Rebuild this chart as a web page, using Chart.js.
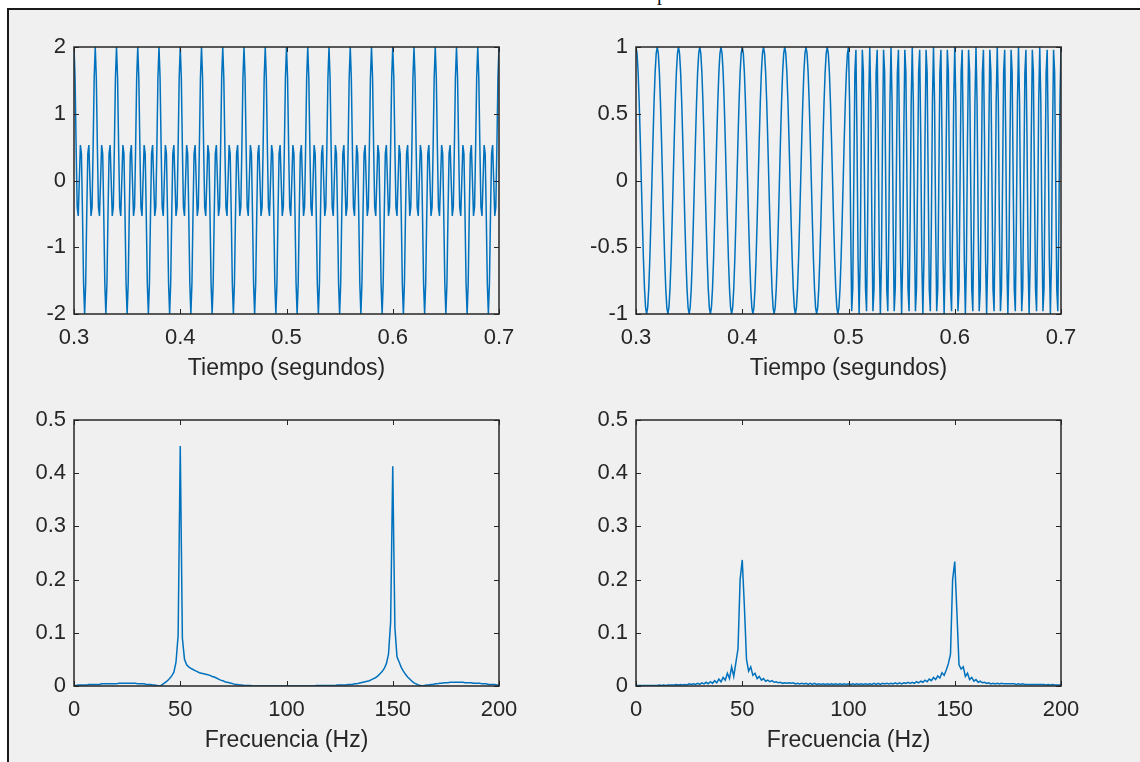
<!DOCTYPE html>
<html>
<head>
<meta charset="utf-8">
<script src="https://cdn.jsdelivr.net/npm/chart.js@4"></script>
<style>
  html, body { margin: 0; padding: 0; background: #ffffff; }
  body { width: 1140px; height: 762px; position: relative; overflow: hidden; }
  #frame { position: absolute; left: 7px; top: 8px; right: 0; bottom: 0; background: #f0f0f0;
           border-left: 2px solid #1a1a1a; border-top: 2px solid #1a1a1a; }
  #cut { position: absolute; left: 657px; top: -17px; font: 20px/20px "Liberation Serif", serif; color: #111; }
  canvas { position: absolute; }
</style>
</head>
<body>
<div id="frame"></div>
<div id="cut">p</div>
<canvas id="c1" width="519" height="351" style="left:0px;top:35px"></canvas>
<canvas id="c2" width="519" height="351" style="left:562px;top:35px"></canvas>
<canvas id="c3" width="519" height="350" style="left:0px;top:408px"></canvas>
<canvas id="c4" width="519" height="350" style="left:562px;top:408px"></canvas>
<script>
// time grid of the two signals (1 kHz samples from 0.3 s)
const tStart = 0.3;
const tStep = 0.001;

// top left: sum of the 50 Hz and 150 Hz tones
const signalSum = [
  2, 1.54, 0.5, -0.4, -0.53, 0, 0.53, 0.4, -0.5, -1.54, -2, -1.54, -0.5, 0.4, 0.53, 0, -0.53, -0.4, 0.5, 1.54,
  2, 1.54, 0.5, -0.4, -0.53, 0, 0.53, 0.4, -0.5, -1.54, -2, -1.54, -0.5, 0.4, 0.53, 0, -0.53, -0.4, 0.5, 1.54,
  2, 1.54, 0.5, -0.4, -0.53, 0, 0.53, 0.4, -0.5, -1.54, -2, -1.54, -0.5, 0.4, 0.53, 0, -0.53, -0.4, 0.5, 1.54,
  2, 1.54, 0.5, -0.4, -0.53, 0, 0.53, 0.4, -0.5, -1.54, -2, -1.54, -0.5, 0.4, 0.53, 0, -0.53, -0.4, 0.5, 1.54,
  2, 1.54, 0.5, -0.4, -0.53, 0, 0.53, 0.4, -0.5, -1.54, -2, -1.54, -0.5, 0.4, 0.53, 0, -0.53, -0.4, 0.5, 1.54,
  2, 1.54, 0.5, -0.4, -0.53, 0, 0.53, 0.4, -0.5, -1.54, -2, -1.54, -0.5, 0.4, 0.53, 0, -0.53, -0.4, 0.5, 1.54,
  2, 1.54, 0.5, -0.4, -0.53, 0, 0.53, 0.4, -0.5, -1.54, -2, -1.54, -0.5, 0.4, 0.53, 0, -0.53, -0.4, 0.5, 1.54,
  2, 1.54, 0.5, -0.4, -0.53, 0, 0.53, 0.4, -0.5, -1.54, -2, -1.54, -0.5, 0.4, 0.53, 0, -0.53, -0.4, 0.5, 1.54,
  2, 1.54, 0.5, -0.4, -0.53, 0, 0.53, 0.4, -0.5, -1.54, -2, -1.54, -0.5, 0.4, 0.53, 0, -0.53, -0.4, 0.5, 1.54,
  2, 1.54, 0.5, -0.4, -0.53, 0, 0.53, 0.4, -0.5, -1.54, -2, -1.54, -0.5, 0.4, 0.53, 0, -0.53, -0.4, 0.5, 1.54,
  2, 1.54, 0.5, -0.4, -0.53, 0, 0.53, 0.4, -0.5, -1.54, -2, -1.54, -0.5, 0.4, 0.53, 0, -0.53, -0.4, 0.5, 1.54,
  2, 1.54, 0.5, -0.4, -0.53, 0, 0.53, 0.4, -0.5, -1.54, -2, -1.54, -0.5, 0.4, 0.53, 0, -0.53, -0.4, 0.5, 1.54,
  2, 1.54, 0.5, -0.4, -0.53, 0, 0.53, 0.4, -0.5, -1.54, -2, -1.54, -0.5, 0.4, 0.53, 0, -0.53, -0.4, 0.5, 1.54,
  2, 1.54, 0.5, -0.4, -0.53, 0, 0.53, 0.4, -0.5, -1.54, -2, -1.54, -0.5, 0.4, 0.53, 0, -0.53, -0.4, 0.5, 1.54,
  2, 1.54, 0.5, -0.4, -0.53, 0, 0.53, 0.4, -0.5, -1.54, -2, -1.54, -0.5, 0.4, 0.53, 0, -0.53, -0.4, 0.5, 1.54,
  2, 1.54, 0.5, -0.4, -0.53, 0, 0.53, 0.4, -0.5, -1.54, -2, -1.54, -0.5, 0.4, 0.53, 0, -0.53, -0.4, 0.5, 1.54,
  2, 1.54, 0.5, -0.4, -0.53, 0, 0.53, 0.4, -0.5, -1.54, -2, -1.54, -0.5, 0.4, 0.53, 0, -0.53, -0.4, 0.5, 1.54,
  2, 1.54, 0.5, -0.4, -0.53, 0, 0.53, 0.4, -0.5, -1.54, -2, -1.54, -0.5, 0.4, 0.53, 0, -0.53, -0.4, 0.5, 1.54,
  2, 1.54, 0.5, -0.4, -0.53, 0, 0.53, 0.4, -0.5, -1.54, -2, -1.54, -0.5, 0.4, 0.53, 0, -0.53, -0.4, 0.5, 1.54,
  2, 1.54, 0.5, -0.4, -0.53, 0, 0.53, 0.4, -0.5, -1.54, -2, -1.54, -0.5, 0.4, 0.53, 0, -0.53, -0.4, 0.5, 1.54,
  2
];

// top right: 50 Hz tone until 0.5 s, then 150 Hz tone
const signalSwitch = [
  1, 0.95, 0.81, 0.59, 0.31, 0, -0.31, -0.59, -0.81, -0.95, -1, -0.95, -0.81, -0.59, -0.31, 0, 0.31, 0.59, 0.81, 0.95,
  1, 0.95, 0.81, 0.59, 0.31, 0, -0.31, -0.59, -0.81, -0.95, -1, -0.95, -0.81, -0.59, -0.31, 0, 0.31, 0.59, 0.81, 0.95,
  1, 0.95, 0.81, 0.59, 0.31, 0, -0.31, -0.59, -0.81, -0.95, -1, -0.95, -0.81, -0.59, -0.31, 0, 0.31, 0.59, 0.81, 0.95,
  1, 0.95, 0.81, 0.59, 0.31, 0, -0.31, -0.59, -0.81, -0.95, -1, -0.95, -0.81, -0.59, -0.31, 0, 0.31, 0.59, 0.81, 0.95,
  1, 0.95, 0.81, 0.59, 0.31, 0, -0.31, -0.59, -0.81, -0.95, -1, -0.95, -0.81, -0.59, -0.31, 0, 0.31, 0.59, 0.81, 0.95,
  1, 0.95, 0.81, 0.59, 0.31, 0, -0.31, -0.59, -0.81, -0.95, -1, -0.95, -0.81, -0.59, -0.31, 0, 0.31, 0.59, 0.81, 0.95,
  1, 0.95, 0.81, 0.59, 0.31, 0, -0.31, -0.59, -0.81, -0.95, -1, -0.95, -0.81, -0.59, -0.31, 0, 0.31, 0.59, 0.81, 0.95,
  1, 0.95, 0.81, 0.59, 0.31, 0, -0.31, -0.59, -0.81, -0.95, -1, -0.95, -0.81, -0.59, -0.31, 0, 0.31, 0.59, 0.81, 0.95,
  1, 0.95, 0.81, 0.59, 0.31, 0, -0.31, -0.59, -0.81, -0.95, -1, -0.95, -0.81, -0.59, -0.31, 0, 0.31, 0.59, 0.81, 0.95,
  1, 0.95, 0.81, 0.59, 0.31, 0, -0.31, -0.59, -0.81, -0.95, -1, -0.95, -0.81, -0.59, -0.31, 0, 0.31, 0.59, 0.81, 0.95,
  1, 0.59, -0.31, -0.98, -0.81, 0, 0.81, 0.98, 0.31, -0.59, -1, -0.59, 0.31, 0.98, 0.81, 0, -0.81, -0.98, -0.31, 0.59,
  1, 0.59, -0.31, -0.98, -0.81, 0, 0.81, 0.98, 0.31, -0.59, -1, -0.59, 0.31, 0.98, 0.81, 0, -0.81, -0.98, -0.31, 0.59,
  1, 0.59, -0.31, -0.98, -0.81, 0, 0.81, 0.98, 0.31, -0.59, -1, -0.59, 0.31, 0.98, 0.81, 0, -0.81, -0.98, -0.31, 0.59,
  1, 0.59, -0.31, -0.98, -0.81, 0, 0.81, 0.98, 0.31, -0.59, -1, -0.59, 0.31, 0.98, 0.81, 0, -0.81, -0.98, -0.31, 0.59,
  1, 0.59, -0.31, -0.98, -0.81, 0, 0.81, 0.98, 0.31, -0.59, -1, -0.59, 0.31, 0.98, 0.81, 0, -0.81, -0.98, -0.31, 0.59,
  1, 0.59, -0.31, -0.98, -0.81, 0, 0.81, 0.98, 0.31, -0.59, -1, -0.59, 0.31, 0.98, 0.81, 0, -0.81, -0.98, -0.31, 0.59,
  1, 0.59, -0.31, -0.98, -0.81, 0, 0.81, 0.98, 0.31, -0.59, -1, -0.59, 0.31, 0.98, 0.81, 0, -0.81, -0.98, -0.31, 0.59,
  1, 0.59, -0.31, -0.98, -0.81, 0, 0.81, 0.98, 0.31, -0.59, -1, -0.59, 0.31, 0.98, 0.81, 0, -0.81, -0.98, -0.31, 0.59,
  1, 0.59, -0.31, -0.98, -0.81, 0, 0.81, 0.98, 0.31, -0.59, -1, -0.59, 0.31, 0.98, 0.81, 0, -0.81, -0.98, -0.31, 0.59,
  1, 0.59, -0.31, -0.98, -0.81, 0, 0.81, 0.98, 0.31, -0.59, -1, -0.59, 0.31, 0.98, 0.81, 0, -0.81, -0.98, -0.31, 0.59,
  1
];

// frequency grid of the spectra (1 Hz bins from 0 Hz)
const fStart = 0;
const fStep = 1;

// bottom left: spectrum of the sum signal
const spectrumSum = [
  0.001, 0.001, 0.002, 0.002, 0.002, 0.002, 0.002, 0.003, 0.003, 0.003,
  0.003, 0.003, 0.003, 0.004, 0.004, 0.004, 0.004, 0.004, 0.004, 0.004,
  0.004, 0.005, 0.005, 0.005, 0.005, 0.005, 0.005, 0.005, 0.005, 0.005,
  0.004, 0.004, 0.004, 0.004, 0.003, 0.003, 0.003, 0.002, 0.002, 0.001,
  0.000, 0.001, 0.004, 0.007, 0.010, 0.014, 0.019, 0.026, 0.045, 0.095,
  0.451, 0.090, 0.050, 0.040, 0.036, 0.033, 0.031, 0.029, 0.027, 0.025,
  0.024, 0.023, 0.022, 0.021, 0.020, 0.018, 0.017, 0.015, 0.013, 0.011,
  0.010, 0.008, 0.007, 0.006, 0.005, 0.004, 0.003, 0.003, 0.002, 0.002,
  0.001, 0.001, 0.001, 0.001, 0.000, 0.000, 0.000, 0.000, 0.000, 0.000,
  0.000, 0.000, 0.000, 0.000, 0.000, 0.000, 0.000, 0.000, 0.000, 0.000,
  0.000, 0.000, 0.000, 0.000, 0.000, 0.000, 0.000, 0.000, 0.000, 0.000,
  0.000, 0.000, 0.000, 0.000, 0.001, 0.001, 0.001, 0.001, 0.001, 0.001,
  0.001, 0.001, 0.001, 0.001, 0.002, 0.002, 0.002, 0.002, 0.002, 0.003,
  0.003, 0.003, 0.004, 0.004, 0.005, 0.006, 0.007, 0.008, 0.009, 0.010,
  0.012, 0.014, 0.016, 0.019, 0.023, 0.027, 0.033, 0.042, 0.060, 0.120,
  0.413, 0.110, 0.055, 0.045, 0.035, 0.028, 0.022, 0.017, 0.013, 0.009,
  0.006, 0.004, 0.002, 0.001, 0.000, 0.001, 0.002, 0.002, 0.003, 0.003,
  0.004, 0.004, 0.005, 0.005, 0.006, 0.006, 0.006, 0.007, 0.007, 0.007,
  0.007, 0.007, 0.007, 0.007, 0.006, 0.006, 0.006, 0.006, 0.005, 0.005,
  0.005, 0.005, 0.004, 0.004, 0.004, 0.003, 0.003, 0.003, 0.003, 0.002,
  0.002
];

// bottom right: spectrum of the switched signal
const spectrumSwitch = [
  0.001, 0.001, 0.001, 0.001, 0.001, 0.001, 0.001, 0.001, 0.001, 0.001,
  0.001, 0.002, 0.001, 0.002, 0.001, 0.002, 0.002, 0.002, 0.002, 0.003,
  0.002, 0.003, 0.002, 0.003, 0.002, 0.004, 0.003, 0.004, 0.003, 0.005,
  0.003, 0.006, 0.004, 0.007, 0.004, 0.008, 0.005, 0.010, 0.006, 0.013,
  0.008, 0.016, 0.011, 0.024, 0.014, 0.036, 0.018, 0.044, 0.070, 0.200,
  0.237, 0.150, 0.050, 0.028, 0.036, 0.020, 0.024, 0.014, 0.018, 0.011,
  0.014, 0.009, 0.011, 0.008, 0.010, 0.007, 0.008, 0.006, 0.007, 0.005,
  0.006, 0.005, 0.006, 0.005, 0.006, 0.004, 0.005, 0.004, 0.005, 0.004,
  0.005, 0.003, 0.005, 0.003, 0.005, 0.003, 0.004, 0.003, 0.004, 0.003,
  0.004, 0.003, 0.004, 0.003, 0.004, 0.003, 0.004, 0.003, 0.004, 0.003,
  0.004, 0.003, 0.004, 0.003, 0.004, 0.003, 0.004, 0.003, 0.004, 0.003,
  0.004, 0.003, 0.005, 0.003, 0.005, 0.003, 0.005, 0.004, 0.005, 0.004,
  0.005, 0.004, 0.006, 0.004, 0.006, 0.004, 0.006, 0.005, 0.007, 0.005,
  0.007, 0.005, 0.008, 0.006, 0.009, 0.007, 0.011, 0.008, 0.013, 0.010,
  0.016, 0.012, 0.019, 0.015, 0.025, 0.020, 0.030, 0.042, 0.060, 0.200,
  0.234, 0.140, 0.040, 0.032, 0.036, 0.018, 0.024, 0.012, 0.016, 0.009,
  0.012, 0.007, 0.009, 0.006, 0.007, 0.005, 0.006, 0.004, 0.005, 0.004,
  0.005, 0.004, 0.005, 0.004, 0.004, 0.004, 0.004, 0.004, 0.004, 0.003,
  0.004, 0.003, 0.004, 0.003, 0.003, 0.003, 0.003, 0.003, 0.003, 0.003,
  0.003, 0.003, 0.003, 0.002, 0.003, 0.002, 0.003, 0.002, 0.002, 0.002,
  0.002
];

const timeTicks = { min: 0.3, max: 0.7, step: 0.1 };
const freqTicks = { min: 0, max: 200, step: 50 };
const sumTicks = { min: -2, max: 2, step: 1 };
const switchTicks = { min: -1, max: 1, step: 0.5 };
const ampTicks = { min: 0, max: 0.5, step: 0.1 };
const timeTitle = 'Tiempo (segundos)';
const freqTitle = 'Frecuencia (Hz)';

const ink = '#262626';
const lineBlue = '#0072BD';
Chart.defaults.font.family = '"Liberation Sans", Arial, sans-serif';

// matlab style box with inward ticks on all four sides
const boxPlugin = {
  id: 'box',
  afterDatasetsDraw(chart) {
    const { ctx, chartArea: a, scales: { x, y } } = chart;
    const len = 5;
    ctx.save();
    ctx.strokeStyle = ink;
    ctx.lineWidth = 1;
    ctx.beginPath();
    x.ticks.forEach(t => {
      const px = Math.round(x.getPixelForValue(t.value)) + 0.5;
      ctx.moveTo(px, a.bottom); ctx.lineTo(px, a.bottom - len);
      ctx.moveTo(px, a.top); ctx.lineTo(px, a.top + len);
    });
    y.ticks.forEach(t => {
      const py = Math.round(y.getPixelForValue(t.value)) + 0.5;
      ctx.moveTo(a.left, py); ctx.lineTo(a.left + len, py);
      ctx.moveTo(a.right, py); ctx.lineTo(a.right - len, py);
    });
    ctx.stroke();
    ctx.lineWidth = 1.5;
    ctx.strokeRect(a.left, a.top, a.right - a.left, a.bottom - a.top);
    ctx.restore();
  }
};

const fmt = v => String(Math.round(v * 100) / 100);

// fixed scale sizes, no label overhang, so the plot box lands where the reference has it
function fitX(s) { s.height = 72; s.paddingLeft = 0; s.paddingRight = 0; }
function fitY(s) { s.width = 74; s.paddingTop = 0; s.paddingBottom = 0; }

function panel(id, values, start, step, xr, yr, title) {
  const points = values.map((v, i) => ({ x: start + i * step, y: v }));
  new Chart(document.getElementById(id), {
    type: 'line',
    data: { datasets: [{ data: points, borderColor: lineBlue, borderWidth: 1.5, pointRadius: 0, tension: 0, fill: false }] },
    options: {
      responsive: false,
      animation: false,
      devicePixelRatio: 1,
      layout: { padding: { top: 12, right: 20, left: 0, bottom: 0 } },
      plugins: { legend: { display: false }, tooltip: { enabled: false } },
      scales: {
        x: {
          type: 'linear', min: xr.min, max: xr.max,
          afterFit: fitX,
          grid: { display: false, drawTicks: false }, border: { display: false },
          ticks: { stepSize: xr.step, autoSkip: false, maxRotation: 0, padding: 11, color: ink, font: { size: 22 }, callback: fmt },
          title: { display: true, text: title, color: ink, font: { size: 23 }, padding: { top: 4, bottom: 4 } }
        },
        y: {
          type: 'linear', min: yr.min, max: yr.max,
          afterFit: fitY,
          grid: { display: false, drawTicks: false }, border: { display: false },
          ticks: { stepSize: yr.step, padding: 8, color: ink, font: { size: 22 }, callback: fmt }
        }
      }
    },
    plugins: [boxPlugin]
  });
}

panel('c1', signalSum, tStart, tStep, timeTicks, sumTicks, timeTitle);
panel('c2', signalSwitch, tStart, tStep, timeTicks, switchTicks, timeTitle);
panel('c3', spectrumSum, fStart, fStep, freqTicks, ampTicks, freqTitle);
panel('c4', spectrumSwitch, fStart, fStep, freqTicks, ampTicks, freqTitle);
</script>
</body>
</html>
